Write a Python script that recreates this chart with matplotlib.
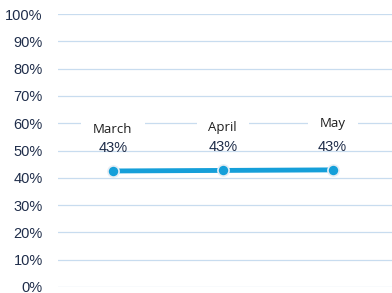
import matplotlib
matplotlib.use("Agg")
import matplotlib.pyplot as plt
from matplotlib.ticker import FuncFormatter

categories = ["March", "April", "May"]
values = [0.425, 0.427, 0.429]
value_labels = ["43%", "43%", "43%"]
yticks = [0, 0.1, 0.2, 0.3, 0.4, 0.5, 0.6, 0.7, 0.8, 0.9, 1.0]

fig = plt.figure(figsize=(3.92, 2.93), dpi=100)
ax = fig.add_axes([58/392, 6/293, 1 - 58/392, (287-14)/293])

x = list(range(len(categories)))
ax.plot(x, values, color="#159fd9", lw=3.5, solid_capstyle="butt", zorder=3,
        marker="o", ms=8, mfc="#159fd9", mec="#e8eef4", mew=1.2)

ax.set_xlim(-0.5, 2.54)
ax.set_ylim(0, 1.0)
ax.set_yticks(yticks)
ax.yaxis.set_major_formatter(FuncFormatter(lambda v, p: f"{v*100:.0f}%"))
ax.grid(axis="y", color="#c8dcef", lw=0.9)
ax.set_axisbelow(True)
ax.set_xticks([])
for s in ax.spines.values():
    s.set_visible(False)
ax.tick_params(axis="y", length=0, pad=11, labelsize=10.5, labelcolor="#1f2d4a")
for lab in ax.get_yticklabels():
    lab.set_fontfamily("Liberation Sans")

name_offsets = [41, 43, 46]
for xi, v, name, vl, off in zip(x, values, categories, value_labels, name_offsets):
    ax.annotate(name, (xi, v), xytext=(0, off), textcoords="offset pixels",
                ha="center", va="center", fontsize=9.5, color="#1e1e1e",
                family="Open Sans", zorder=4,
                bbox=dict(boxstyle="square,pad=0.9", fc="white", ec="none"))
    ax.annotate(vl, (xi, v), xytext=(0, 23), textcoords="offset pixels",
                ha="center", va="center", fontsize=10.5, color="#1f2d4a",
                family="Liberation Sans", zorder=6)

fig.savefig("out.png", dpi=100)
